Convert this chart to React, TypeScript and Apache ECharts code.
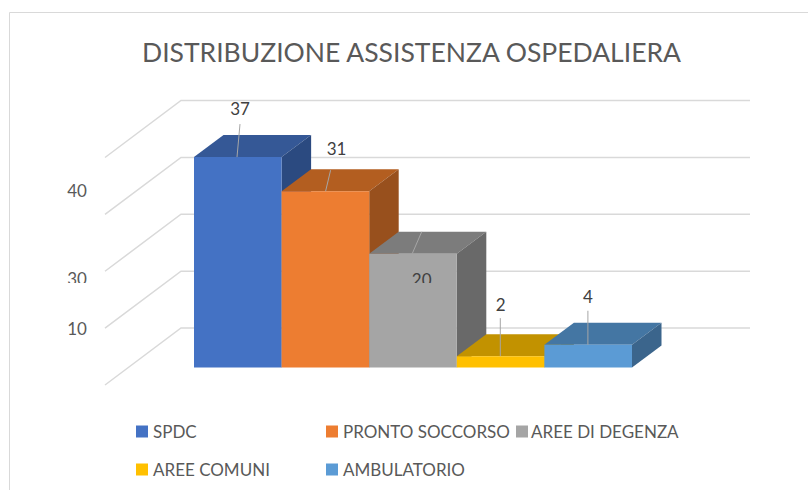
import React, { useEffect, useRef } from "react";
import * as echarts from "echarts";

const titleText = "DISTRIBUZIONE ASSISTENZA OSPEDALIERA";
const categories = ["SPDC", "PRONTO SOCCORSO", "AREE DI DEGENZA", "AREE COMUNI", "AMBULATORIO"];
const values = [37, 31, 20, 2, 4];
const gridValues = [0, 10, 20, 30, 40];
const tickLabels = ["40", "30", "10"];

const frontColors = ["#4472C4", "#ED7D31", "#A5A5A5", "#FFC000", "#5B9BD5"];
const topColors = ["#355896", "#B35E20", "#7C7C7C", "#C29200", "#4476A3"];
const sideColors = ["#2B4A80", "#98501D", "#696969", "#A87F00", "#3B658C"];

// layout, in pixels
const BAR_DX = 29.5;
const BAR_DY = 22;
const WALL_LEFT = 181;
const WALL_RIGHT = 750;
const FLOOR_LEFT = 105;
const WALL_DY = 39.5;
const FLOOR_DY = 17.5;
const CLIP_Y = 283;
const leaderLayout = [
  { from: [43, 0], to: [46, -33], label: [46, -49] },
  { from: [44, 0], to: [49, -21], label: [55, -43] },
  { from: [43, 0], to: [52.5, -22], label: [52.5, 26] },
  { from: [43.5, 0], to: [43.5, -38], label: [44, -52] },
  { from: [43.5, 0], to: [43.5, -34], label: [43.5, -48] },
];
const tickLayout = [
  { x: 77, y: 190 },
  { x: 77, y: 278 },
  { x: 77, y: 328 },
];

const faces = (i: number) => (params: any, api: any) => {
  const idx = api.value(0);
  const val = api.value(1);
  const [x0, yTop] = api.coord([idx, val]);
  const [, yBase] = api.coord([idx, 0]);
  const w = api.size([1, 0])[0];
  const left = x0 - w / 2;
  const right = x0 + w / 2;
  const lay = leaderLayout[i];
  const lx = left + lay.label[0];
  const ly = yTop + lay.label[1];
  const clipped = i === 2;
  return {
    type: "group",
    children: [
      {
        type: "polygon",
        shape: { points: [[left, yTop], [left + BAR_DX, yTop - BAR_DY], [right + BAR_DX, yTop - BAR_DY], [right, yTop]] },
        style: { fill: topColors[i] },
      },
      {
        type: "polygon",
        shape: { points: [[right, yTop], [right + BAR_DX, yTop - BAR_DY], [right + BAR_DX, yBase - BAR_DY], [right, yBase]] },
        style: { fill: sideColors[i] },
      },
      {
        type: "rect",
        shape: { x: left, y: yTop, width: w, height: yBase - yTop },
        style: { fill: frontColors[i] },
      },
      {
        type: "line",
        shape: { x1: left + lay.from[0], y1: yTop + lay.from[1], x2: left + lay.to[0], y2: yTop + lay.to[1] },
        style: { stroke: "#A6A6A6", lineWidth: 1 },
      },
      {
        type: "text",
        style: {
          x: lx,
          y: ly,
          text: String(val),
          fill: "#404040",
          font: "17px Lato",
          align: "center",
          verticalAlign: "middle",
        },
        ...(clipped
          ? { clipPath: { type: "rect", shape: { x: lx - 30, y: ly - 20, width: 60, height: CLIP_Y - (ly - 20) } } }
          : {}),
      },
    ],
  };
};

export default function App() {
  const ref = useRef<HTMLDivElement>(null);
  useEffect(() => {
    document.body.style.margin = "0";
    const chart = echarts.init(ref.current!, null, { renderer: "svg" });
    const legendAt = [
      { left: 136, top: 423 },
      { left: 326, top: 423 },
      { left: 516, top: 423 },
      { left: 136, top: 461 },
      { left: 326, top: 461 },
    ];
    chart.setOption({
      animation: false,
      backgroundColor: "#fff",
      title: {
        text: titleText,
        left: 137,
        top: 33,
        textStyle: { fontFamily: "Lato", fontWeight: "normal", fontSize: 26.5, color: "#595959" },
      },
      legend: categories.map((c, i) => ({
        data: [c],
        left: legendAt[i].left,
        top: legendAt[i].top,
        padding: 0,
        icon: "rect",
        itemWidth: 12,
        itemHeight: 12,
        itemGap: 0,
        selectedMode: false,
        textStyle: { fontFamily: "Lato", fontSize: 17, color: "#595959", padding: [0, 0, 0, i === 2 ? -2 : 0] },
      })),
      grid: { left: 194, top: 140, width: 438, height: 227.5 },
      xAxis: { type: "category", data: categories, show: false },
      yAxis: { type: "value", min: 0, max: 40, interval: 10, show: false },
      graphic: [
        {
          type: "polyline",
          shape: { points: [[9.5, 490], [9.5, 12.5], [808, 12.5]] },
          style: { stroke: "#D9D9D9", lineWidth: 1, fill: "none" },
          silent: true,
        },
      ],
      series: [
        {
          type: "custom",
          name: "grid",
          silent: true,
          clip: false,
          data: gridValues.map((v) => [0, v]),
          encode: { x: 0, y: 1 },
          renderItem: (params: any, api: any) => {
            const [, y] = api.coord([0, api.value(1)]);
            return {
              type: "polyline",
              shape: { points: [[FLOOR_LEFT, y + FLOOR_DY], [WALL_LEFT, y - WALL_DY], [WALL_RIGHT, y - WALL_DY]] },
              style: { stroke: "#D9D9D9", lineWidth: 1.5, fill: "none" },
            };
          },
        },
        {
          type: "custom",
          name: "ticks",
          silent: true,
          clip: false,
          data: tickLabels.map((t, i) => [0, i]),
          encode: { x: 0, y: 1 },
          renderItem: (params: any) => {
            const i = params.dataIndex;
            const p = tickLayout[i];
            return {
              type: "text",
              style: {
                x: p.x,
                y: p.y,
                text: tickLabels[i],
                fill: "#595959",
                font: "17px Lato",
                align: "center",
                verticalAlign: "middle",
              },
              ...(i === 1
                ? { clipPath: { type: "rect", shape: { x: p.x - 30, y: p.y - 20, width: 60, height: CLIP_Y - (p.y - 20) } } }
                : {}),
            };
          },
        },
        ...categories.map((c, i) => ({
          type: "custom",
          name: c,
          silent: true,
          clip: false,
          itemStyle: { color: frontColors[i] },
          data: [[i, values[i]]],
          encode: { x: 0, y: 1 },
          renderItem: faces(i),
        })),
      ],
    });
    return () => chart.dispose();
  }, []);
  return <div ref={ref} style={{ width: 808, height: 490 }} />;
}
